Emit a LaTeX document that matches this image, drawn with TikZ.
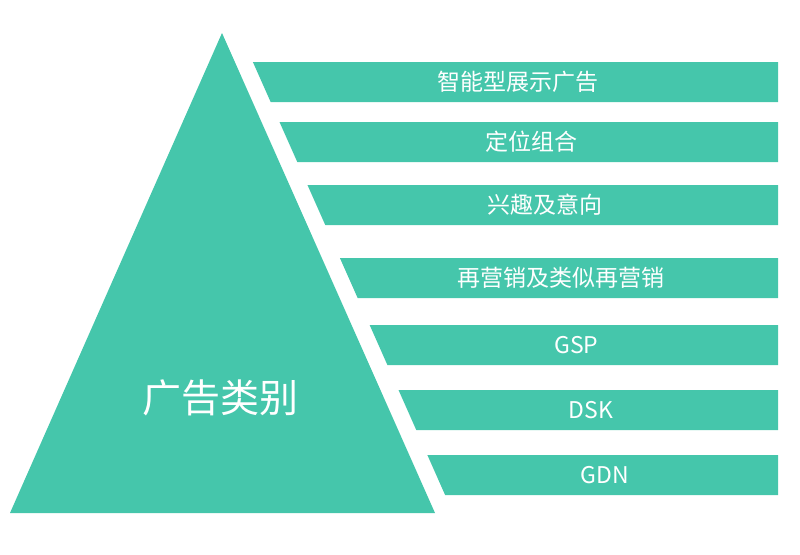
\documentclass[tikz,border=0pt]{standalone}
\usepackage{fontspec}
\newfontfamily\cjk{Noto Sans CJK SC}

\begin{document}
\begin{tikzpicture}[x=1pt,y=-1pt]
    \definecolor{ad_teal}{HTML}{45C6AB}
    \tikzset{barlabel/.style={text=white,font=\cjk\fontsize{23}{23}\selectfont}}
    \useasboundingbox (0,0) rectangle (800,554);
    %\draw[help lines] (0,0) grid (800,554);
    \path[fill=ad_teal] (222,33) -- (435,513) -- (10,513) -- cycle;
    \node[text=white,font=\cjk\fontsize{39}{39}\selectfont] (category) at (220,398) {广告类别};

    \foreach \top/\label [count=\i] in {62/智能型展示广告,122/定位组合,185/兴趣及意向,
        258/再营销及类似再营销,325/GSP,390/DSK,455/GDN}{
        \pgfmathsetmacro{\xa}{240+0.444*(\top-33)}
        \pgfmathsetmacro{\xb}{240+0.444*(\top+40-33)}
        \path[fill=ad_teal] (\xa,\top) -- (778,\top) -- (778,\top+40) -- (\xb,\top+40) -- cycle;
        \node[barlabel] (bar\i) at ({(\xa+\xb)/4+387},\top+20) {\label};
    }
\end{tikzpicture}
\end{document}
